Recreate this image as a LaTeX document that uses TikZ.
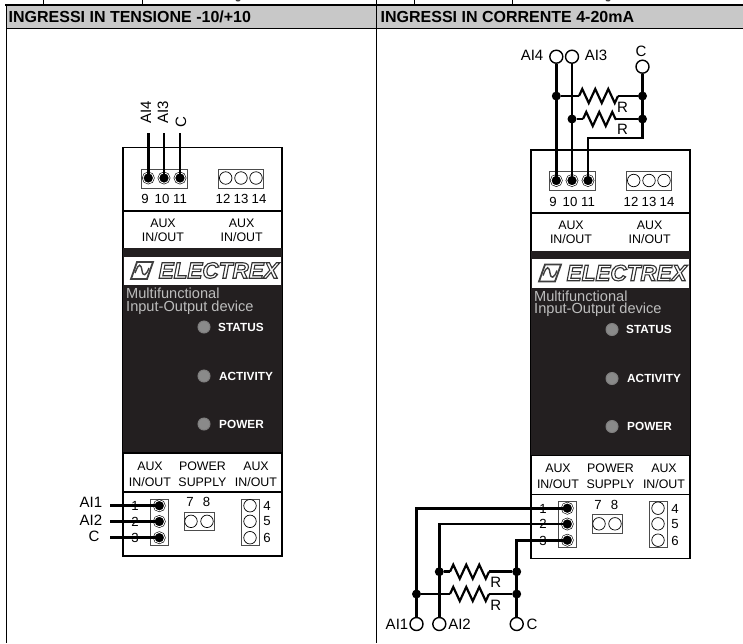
\documentclass[tikz,border=0pt]{standalone}
\usepackage{fontspec}
\setmainfont{Liberation Sans}
\usetikzlibrary{decorations.pathmorphing}
\definecolor{bandgrey}{HTML}{C8C8C8}
\definecolor{devdark}{HTML}{231F20}
\definecolor{ledgrey}{HTML}{8A8A8A}
\definecolor{silk}{HTML}{BDBDBD}
\newcommand{\outlinetext}[1]{\special{pdf:code q 1 Tr 1.1 w 0.2 0.2 0.2 RG}#1\special{pdf:code Q}}
\tikzset{
	rule/.style={line width=1.6pt},
	wire/.style={line width=2.8pt},
	zig/.style={line width=2.2pt,decorate,decoration={zigzag,amplitude=7pt,segment length=13pt}},
	lbl/.style={inner sep=0pt,font=\fontsize{12.4}{14}\selectfont},
	num/.style={inner sep=0pt,font=\fontsize{13.2}{15}\selectfont},
	biglbl/.style={inner sep=0pt,font=\fontsize{15}{17}\selectfont},
	head/.style={inner sep=0pt,anchor=west,font=\fontsize{16}{18}\selectfont\bfseries},
	pinopen/.style={circle,draw,line width=0.7pt,fill=white,inner sep=0pt,minimum size=12.5pt},
	pinwired/.style={circle,draw,fill=black,inner sep=0pt,minimum size=10.5pt,line width=0.6pt,double=white,double distance=0.9pt},
	term/.style={circle,draw,line width=1.4pt,fill=white,inner sep=0pt,minimum size=13pt},
	dot/.style={circle,fill=black,inner sep=0pt,minimum size=9pt},
	led/.style={circle,draw=silk!60!devdark,line width=1pt,fill=ledgrey,inner sep=0pt,minimum size=12pt},
	ledtxt/.style={inner sep=0pt,anchor=west,text=white,font=\fontsize{11.8}{13}\selectfont\bfseries},
	silktxt/.style={inner sep=0pt,anchor=west,text=silk,font=\fontsize{14.6}{14.6}\selectfont},
	device/.pic={
		\draw[rule,fill=white] (122.7,147.3) rectangle (282,556);
		\fill[devdark] (122.7,248) rectangle (282,453);
		\fill[white] (123.5,256.5) rectangle (281.2,285);
		\draw[rule] (122.7,210.7) -- (282,210.7);
		\draw[rule] (122.7,453) -- (282,453);
		\draw[rule] (122.7,492) -- (282,492);
		\draw[line width=0.7pt,draw=black!70] (141.7,169) rectangle (187.3,188);
		\draw[line width=0.7pt,draw=black!70] (218,169) rectangle (263,188);
		\draw[line width=0.7pt,draw=black!70] (150.7,499) rectangle (168.7,545);
		\draw[line width=0.7pt,draw=black!70] (184,512) rectangle (214,530.7);
		\draw[line width=0.7pt,draw=black!70] (241,499) rectangle (259.3,545);
		\node[pinwired] (p9) at (148.3,178) {};
		\node[pinwired] (p10) at (164,178) {};
		\node[pinwired] (p11) at (180,178) {};
		\node[pinopen] (p12) at (225.7,178) {};
		\node[pinopen] (p13) at (241,178) {};
		\node[pinopen] (p14) at (256,178) {};
		\node[pinwired] (p1) at (159.3,505.7) {};
		\node[pinwired] (p2) at (159.3,521.5) {};
		\node[pinwired] (p3) at (159.3,537.7) {};
		\node[pinopen] (p7) at (191,521.3) {};
		\node[pinopen] (p8) at (207,521.3) {};
		\node[pinopen] (p4) at (250,505.7) {};
		\node[pinopen] (p5) at (250,521.3) {};
		\node[pinopen] (p6) at (250,537.7) {};
		\node[num] (n9) at (145,199) {9};
		\node[num] (n10) at (162,199) {10};
		\node[num] (n11) at (180,199) {11};
		\node[num] (n12) at (223,199) {12};
		\node[num] (n13) at (241,199) {13};
		\node[num] (n14) at (259,199) {14};
		\node[num] (n1) at (135,506) {1};
		\node[num] (n2) at (135,521.5) {2};
		\node[num] (n3) at (135,538) {3};
		\node[num] (n7) at (190,502) {7};
		\node[num] (n8) at (206.5,502) {8};
		\node[num] (n4) at (267,506) {4};
		\node[num] (n5) at (267,521.5) {5};
		\node[num] (n6) at (267,538) {6};
		\node[lbl] (a1) at (163,223) {AUX};
		\node[lbl] (a2) at (163,237) {IN/OUT};
		\node[lbl] (a3) at (241.7,223) {AUX};
		\node[lbl] (a4) at (241.7,237) {IN/OUT};
		\node[lbl] (a5) at (150,466) {AUX};
		\node[lbl] (a6) at (150,482) {IN/OUT};
		\node[lbl] (a7) at (202.5,466) {POWER};
		\node[lbl] (a8) at (202.5,482) {SUPPLY};
		\node[lbl] (a9) at (256,466) {AUX};
		\node[lbl] (a10) at (256,482) {IN/OUT};
		\draw[line width=1.8pt,draw=black!75] (131,279) -- (137,262) -- (153,262) -- (147,279) -- cycle;
		\draw[line width=1.4pt,draw=black!75] (135,273) .. controls (139,262) and (141,264) .. (142,270.5) .. controls (143,277) and (146,276) .. (149,268);
		\node[inner sep=0pt,anchor=west,font=\fontsize{22.5}{24}\selectfont\bfseries\itshape] (logo) at (158.5,270.5) {\outlinetext{ELECTREX}};
		\node[silktxt] (m1) at (126,293.5) {Multifunctional};
		\node[silktxt] (m2) at (126,307.5) {Input-Output device};
		\node[led] (l1) at (204,327) {};
		\node[led] (l2) at (204,376) {};
		\node[led] (l3) at (204,424) {};
		\node[ledtxt] (t1) at (218,327) {STATUS};
		\node[ledtxt] (t2) at (219,376) {ACTIVITY};
		\node[ledtxt] (t3) at (219,424) {POWER};
	}
}
\begin{document}
\begin{tikzpicture}[x=1pt,y=-1pt]
	\useasboundingbox (0,0) rectangle (743,643);
	\fill[bandgrey] (6.3,5) rectangle (743,28);
	\draw[line width=1pt] (43.3,0) -- (43.3,5);
	\draw[line width=1pt] (142.7,0) -- (142.7,5);
	\draw[line width=1pt] (376,0) -- (376,5);
	\draw[line width=1pt] (414,0) -- (414,5);
	\draw[line width=1pt] (512,0) -- (512,5);
	\fill[black!75] (238,0) ellipse (2.5pt and 1.5pt);
	\fill[black!75] (608,0) ellipse (2.5pt and 1.5pt);
	\draw[line width=1.8pt] (5.4,5) -- (743,5);
	\draw[line width=1pt] (6.3,28) -- (743,28);
	\draw[rule] (6.3,5) -- (6.3,643);
	\draw[line width=1pt] (376,5) -- (376,643);
	\node[head] (headL) at (8.5,17) {INGRESSI IN TENSIONE -10/+10};
	\node[head] (headR) at (380.5,17) {INGRESSI IN CORRENTE 4-20mA};

	\pic (L) at (0,0) {device};
	\pic (R) at (408,2.5) {device};

	\coordinate (e9) at (148.3,133);
	\coordinate (e10) at (164,133);
	\coordinate (e11) at (180,133);
	\coordinate (e1) at (110,505.7);
	\coordinate (e2) at (110,521.5);
	\coordinate (e3) at (110,537.7);
	\draw[wire] (e9) -- (Lp9.center);
	\draw[wire] (e10) -- (Lp10.center);
	\draw[wire] (e11) -- (Lp11.center);
	\draw[wire] (e1) -- (Lp1.center);
	\draw[wire] (e2) -- (Lp2.center);
	\draw[wire] (e3) -- (Lp3.center);
	\node[biglbl,rotate=90] (lAI4) at (146,112) {AI4};
	\node[biglbl,rotate=90] (lAI3) at (163,112) {AI3};
	\node[biglbl,rotate=90] (lCt) at (181,122) {C};
	\node[biglbl] (lAI1) at (91,502) {AI1};
	\node[biglbl] (lAI2) at (91,520.7) {AI2};
	\node[biglbl] (lCb) at (94,536.7) {C};

	\node[term] (tAI4) at (556.3,56.7) {};
	\node[term] (tAI3) at (572,56.7) {};
	\node[term] (tCt) at (642.5,66.7) {};
	\node[biglbl] (rAI4) at (532,55) {AI4};
	\node[biglbl] (rAI3) at (596,55) {AI3};
	\node[biglbl] (rCt) at (641,51.7) {C};
	\draw[wire] (tAI4) -- (Rp9.center);
	\draw[wire] (tAI3) -- (Rp10.center);
	\coordinate (kC) at (642.5,138);
	\coordinate (kD) at (588,138);
	\draw[wire] (tCt) -- (kC) -- (kD) -- (Rp11.center);
	\node[dot] (j1) at (556.3,96) {};
	\node[dot] (j2) at (572,119) {};
	\node[dot] (j3) at (642.5,96) {};
	\node[dot] (j4) at (642.5,119) {};
	\coordinate (r1a) at (579,96);
	\coordinate (r1b) at (618,96);
	\coordinate (r2a) at (583,119);
	\coordinate (r2b) at (616,119);
	\draw[wire] (j1) -- (r1a);
	\draw[zig] (r1a) -- (r1b);
	\draw[wire] (r1b) -- (j3);
	\draw[wire] (j2) -- (r2a);
	\draw[zig] (r2a) -- (r2b);
	\draw[wire] (r2b) -- (j4);
	\node[biglbl] (rR1) at (622.5,107) {R};
	\node[biglbl] (rR2) at (622.5,129) {R};

	\node[term] (tAI1) at (416.5,624) {};
	\node[term] (tAI2) at (439.3,624) {};
	\node[term] (tCb) at (516.7,624) {};
	\node[biglbl] (bAI1) at (397,624.5) {AI1};
	\node[biglbl] (bAI2) at (459.5,624.5) {AI2};
	\node[biglbl] (bCb) at (532,624.5) {C};
	\draw[wire] (Rp1.center) -| (tAI1);
	\draw[wire] (Rp2.center) -| (tAI2);
	\draw[wire] (Rp3.center) -| (tCb);
	\node[dot] (j5) at (439.3,571.7) {};
	\node[dot] (j6) at (516.7,571.7) {};
	\node[dot] (j7) at (416.5,594) {};
	\node[dot] (j8) at (516.7,594) {};
	\coordinate (r3a) at (450,571.7);
	\coordinate (r3b) at (489,571.7);
	\coordinate (r4a) at (450,594);
	\coordinate (r4b) at (489,594);
	\draw[wire] (j5) -- (r3a);
	\draw[zig] (r3a) -- (r3b);
	\draw[wire] (r3b) -- (j6);
	\draw[wire] (j7) -- (r4a);
	\draw[zig] (r4a) -- (r4b);
	\draw[wire] (r4b) -- (j8);
	\node[biglbl] (bR1) at (495.7,582) {R};
	\node[biglbl] (bR2) at (495.7,605.7) {R};
\end{tikzpicture}
\end{document}
